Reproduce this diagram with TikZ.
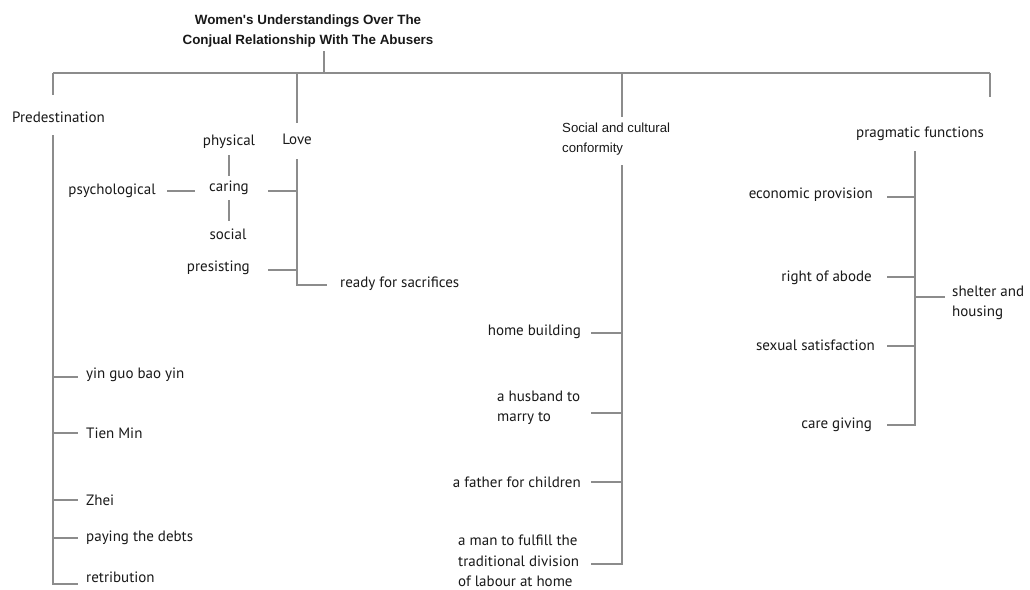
\documentclass[tikz,border=0pt]{standalone}
\usepackage{fontspec}
\setmainfont{PT Sans}
\newfontfamily\arialf{Liberation Sans}
\definecolor{txt}{RGB}{25,25,25}
\definecolor{ln}{RGB}{140,140,140}
\tikzset{
  lbl/.style={inner sep=0pt, text=txt, font=\fontsize{15}{20.5}\selectfont, align=left},
  arl/.style={inner sep=0pt, text=txt, font=\arialf\fontsize{13.2}{20}\selectfont, align=left},
  ttl/.style={inner sep=0pt, text=txt, font=\arialf\bfseries\fontsize{13.4}{20}\selectfont, align=center},
  conn/.style={draw=ln, line width=1.3pt}
}
\begin{document}
\begin{tikzpicture}[x=1pt,y=-1pt]
\useasboundingbox[fill=white] (0,0) rectangle (1030,589);
% title
\node[ttl] (title) at (308,31) {Women's Understandings Over The\\Conjual Relationship With The Abusers};
\coordinate (t1) at (324,51);
\coordinate (t2) at (324,73);
\coordinate (hl) at (53,73);
\coordinate (hr) at (990,73);
\coordinate (dPred) at (53,95);
\coordinate (jLove) at (297,73);
\coordinate (dLove) at (297,123);
\coordinate (jSoc) at (622,73);
\coordinate (dSoc) at (622,117);
\coordinate (dPrag) at (990,97);
\draw[conn] (t1) -- (t2);
\draw[conn] (hl) -- (hr);
\draw[conn] (hl) -- (dPred);
\draw[conn] (jLove) -- (dLove);
\draw[conn] (jSoc) -- (dSoc);
\draw[conn] (hr) -- (dPrag);

% Predestination
\node[lbl, anchor=west] (pred) at (12,117) {Predestination};
\node[lbl, anchor=west] (yin) at (86,375) {yin guo bao yin};
\node[lbl, anchor=west] (tien) at (86,433) {Tien Min};
\node[lbl, anchor=west] (zhei) at (86,500) {Zhei};
\node[lbl, anchor=west] (pay) at (86,538) {paying the debts};
\node[lbl, anchor=west] (ret) at (86,577) {retribution};
\coordinate (p0) at (53,135);
\coordinate (p5) at (53,584);
\coordinate (p1) at (53,377);
\coordinate (p2) at (53,433);
\coordinate (p3) at (53,500);
\coordinate (p4) at (53,538);
\draw[conn] (p0) -- (p5) -- (78,584);
\foreach \c in {p1,p2,p3,p4} \draw[conn] (\c) -- ++(25,0);

% Love
\node[lbl, anchor=center] (love) at (297,139) {Love};
\node[lbl, anchor=center] (caring) at (229,188) {caring};
\node[lbl, anchor=center] (phys) at (229,142) {physical};
\node[lbl, anchor=center] (social) at (228,234) {social};
\node[lbl, anchor=east] (psy) at (156,191) {psychological};
\node[lbl, anchor=east] (pres) at (250,268) {presisting};
\node[lbl, anchor=west] (ready) at (340,284) {ready for sacrifices};
\coordinate (l0) at (297,159);
\coordinate (l1) at (297,191);
\coordinate (l2) at (297,270);
\coordinate (l3) at (297,285);
\draw[conn] (l0) -- (l3) -- (327,285);
\draw[conn] (268,191) -- (l1);
\draw[conn] (268,270) -- (l2);
\draw[conn] (229,155) -- (229,176);
\draw[conn] (229,200) -- (229,221);
\draw[conn] (167,191) -- (195,191);

% Social and cultural conformity
\node[arl, anchor=west] (soc) at (562,139) {Social and cultural\\conformity};
\node[lbl, anchor=east] (home) at (581,332) {home building};
\node[lbl, anchor=west] (husb) at (497,408) {a husband to\\marry to};
\node[lbl, anchor=east] (fath) at (581,482) {a father for children};
\node[lbl, anchor=west] (man) at (458,561) {a man to fulfill the\\traditional division\\of labour at home};
\coordinate (s0) at (622,165);
\coordinate (s1) at (622,333);
\coordinate (s2) at (622,413);
\coordinate (s3) at (622,482);
\coordinate (s4) at (622,564);
\draw[conn] (s0) -- (s4) -- (591,564);
\foreach \c in {s1,s2,s3} \draw[conn] (\c) -- ++(-31,0);

% pragmatic functions
\node[lbl, anchor=center] (prag) at (920,134) {pragmatic functions};
\node[lbl, anchor=east] (econ) at (873,195) {economic provision};
\node[lbl, anchor=east] (abode) at (872,278) {right of abode};
\node[lbl, anchor=east] (sex) at (875,345) {sexual satisfaction};
\node[lbl, anchor=east] (care) at (872,425) {care giving};
\node[lbl, anchor=west] (shel) at (952,303) {shelter and\\housing};
\coordinate (g0) at (915,151);
\coordinate (g1) at (915,197);
\coordinate (g2) at (915,277);
\coordinate (g3) at (915,346);
\coordinate (g4) at (915,425);
\coordinate (g5) at (915,297);
\draw[conn] (g0) -- (g4) -- (887,425);
\foreach \c in {g1,g2,g3} \draw[conn] (\c) -- ++(-28,0);
\draw[conn] (g5) -- (945,297);
\end{tikzpicture}
\end{document}
